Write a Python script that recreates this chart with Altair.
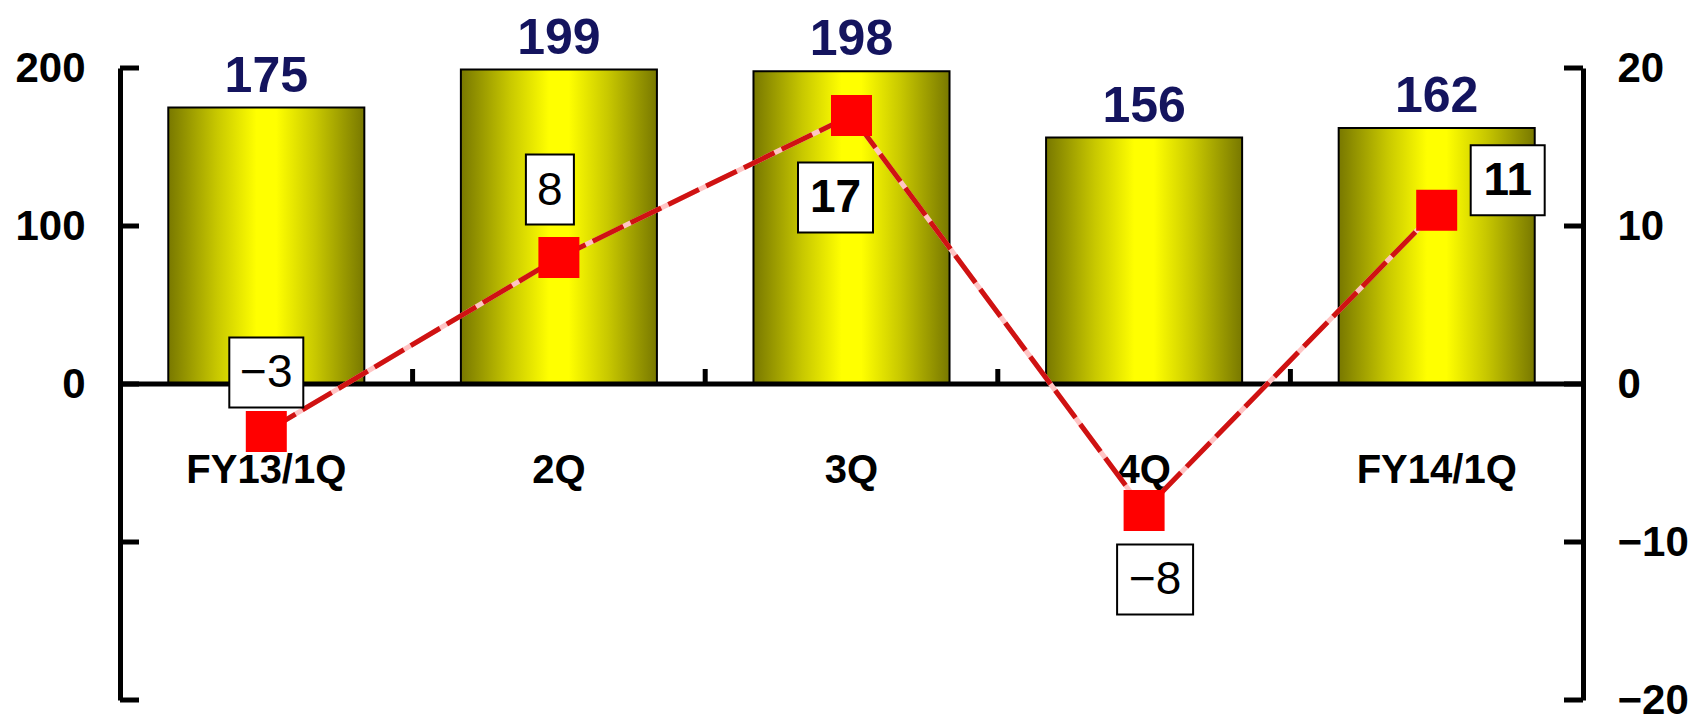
import altair as alt
import pandas as pd

# ---- data ----
categories = ["FY13/1Q", "2Q", "3Q", "4Q", "FY14/1Q"]
bar_values = [175, 199, 198, 156, 162]
line_values = [-3, 8, 17, -8, 11]
left_ticks = [-200, -100, 0, 100, 200]
right_ticks = [-20, -10, 0, 10, 20]

# ---- layout / style ----
W, H = 1463, 632
FONT = "Liberation Sans"
AXW = 5          # axis line width
TICK = 19        # inward tick length

df = pd.DataFrame({"cat": categories, "bar": bar_values, "line": line_values})

xscale = alt.Scale(domain=categories, paddingInner=0.33, paddingOuter=0.165)
yL = alt.Scale(domain=[-200, 200], nice=False)
yR = alt.Scale(domain=[-20, 20], nice=False)

gradient = alt.Gradient(
    gradient="linear",
    stops=[
        alt.GradientStop(color="#787800", offset=0),
        alt.GradientStop(color="#c8c800", offset=0.25),
        alt.GradientStop(color="#ffff00", offset=0.45),
        alt.GradientStop(color="#ffff00", offset=0.55),
        alt.GradientStop(color="#c8c800", offset=0.75),
        alt.GradientStop(color="#787800", offset=1),
    ],
    x1=0, x2=1, y1=0, y2=0,
)

# ---------------- left (bar) group ----------------
x_bar = alt.X(
    "cat:N", scale=xscale, sort=categories, title=None,
    axis=alt.Axis(orient="bottom", offset=-H / 2, domain=False, ticks=False,
                  tickSize=0, labelAngle=0, labelFont=FONT, labelFontSize=40,
                  labelFontWeight="bold", labelColor="black", labelPadding=66,
                  grid=False),
)
y_bar = alt.Y(
    "bar:Q", scale=yL, title=None,
    axis=alt.Axis(orient="left", values=left_ticks, domain=True, domainColor="black",
                  domainWidth=AXW, ticks=False, tickSize=0, grid=False,
                  labelExpr="datum.value >= 0 ? datum.label : ''",
                  labelFont=FONT, labelFontSize=42, labelFontWeight="bold",
                  labelColor="black", labelPadding=35, labelFlush=False,
                  labelOverlap=False),
)

bars = alt.Chart(df).mark_bar(color=gradient, stroke="black", strokeWidth=2).encode(
    x=x_bar, y=y_bar
)
bar_text = alt.Chart(df).mark_text(
    dy=-16, baseline="alphabetic", font=FONT, fontSize=50, fontWeight="bold",
    color="#14145e",
).encode(x=alt.X("cat:N", scale=xscale, sort=categories), y=alt.Y("bar:Q", scale=yL),
         text=alt.Text("bar:Q"))

zero_line = alt.Chart(pd.DataFrame({"z": [0]})).mark_rule(
    color="black", strokeWidth=AXW
).encode(y=alt.Y("z:Q", scale=yL), x=alt.value(0), x2=alt.value(W))

left_tick_marks = alt.Chart(pd.DataFrame({"t": left_ticks})).mark_rule(
    color="black", strokeWidth=AXW
).encode(y=alt.Y("t:Q", scale=yL), x=alt.value(0), x2=alt.value(TICK))

left_group = alt.layer(bars, bar_text, zero_line, left_tick_marks)

# ---------------- right (line) group ----------------
x_line = alt.X("cat:N", scale=xscale, sort=categories, axis=None)
y_line = alt.Y(
    "line:Q", scale=yR, title=None,
    axis=alt.Axis(orient="right", values=right_ticks, domain=True, domainColor="black",
                  domainWidth=AXW, ticks=False, tickSize=0, grid=False, format="d",
                  labelFont=FONT, labelFontSize=42, labelFontWeight="bold",
                  labelColor="black", labelPadding=34, labelFlush=False,
                  labelOverlap=False),
)
rbase = alt.Chart(df).encode(x=x_line, y=y_line)

line_base = rbase.mark_line(color="#ffc4c4", strokeWidth=5)
line_dash = rbase.mark_line(color="#cf1212", strokeWidth=5, strokeDash=[34, 8])
markers = rbase.mark_point(shape="square", size=41 * 41, filled=True,
                           color="#ff0000", opacity=1)

right_tick_marks = alt.Chart(pd.DataFrame({"t": right_ticks})).mark_rule(
    color="black", strokeWidth=AXW
).encode(y=alt.Y("t:Q", scale=yR), x=alt.value(W - TICK), x2=alt.value(W))

# placement of the boxed value labels relative to each marker (style, not data)
label_place = {
    "FY13/1Q": dict(dx=0, dy=-59, w=74, weight="normal"),
    "2Q": dict(dx=-9, dy=-68, w=48, weight="normal"),
    "3Q": dict(dx=-16, dy=82, w=75, weight="bold"),
    "4Q": dict(dx=11, dy=69, w=76, weight="normal"),
    "FY14/1Q": dict(dx=71, dy=-30, w=74, weight="bold"),
}
BOX_H = 70
label_layers = []
for c in categories:
    p = label_place[c]
    a = p["w"] / BOX_H
    shape = f"M-{a:.4f},-1H{a:.4f}V1H-{a:.4f}Z"
    sub = rbase.transform_filter(alt.datum.cat == c)
    box = sub.mark_point(shape=shape, size=BOX_H * BOX_H, filled=True, fill="white",
                         stroke="black", strokeWidth=2, opacity=1, fillOpacity=1,
                         strokeOpacity=1, xOffset=p["dx"], yOffset=p["dy"])
    txt = sub.mark_text(dx=p["dx"], dy=p["dy"] + 1, baseline="middle", align="center",
                        font=FONT, fontSize=46, fontWeight=p["weight"],
                        color="black").encode(text=alt.Text("line:Q", format="d"))
    label_layers += [box, txt]

right_group = alt.layer(line_base, line_dash, right_tick_marks, markers, *label_layers)

# ---------------- category boundary ticks on the zero line ----------------
n = len(categories)
xticks = alt.Chart(pd.DataFrame({"b": list(range(1, n))})).mark_rule(
    color="black", strokeWidth=AXW
).encode(
    x=alt.X("b:Q", scale=alt.Scale(domain=[0, n], nice=False, zero=False), axis=None),
    y=alt.value(H / 2),
    y2=alt.value(H / 2 - 15),
)

chart = (
    alt.layer(left_group, right_group, xticks)
    .resolve_scale(y="independent", x="independent")
    .properties(
        width=W, height=H,
        padding={"left": 112, "top": 60, "right": 110, "bottom": 22},
        autosize=alt.AutoSizeParams(type="none"),
    )
    .configure_view(stroke=None)
)

chart.save("out.html", embed_options={"renderer": "svg", "actions": False})
